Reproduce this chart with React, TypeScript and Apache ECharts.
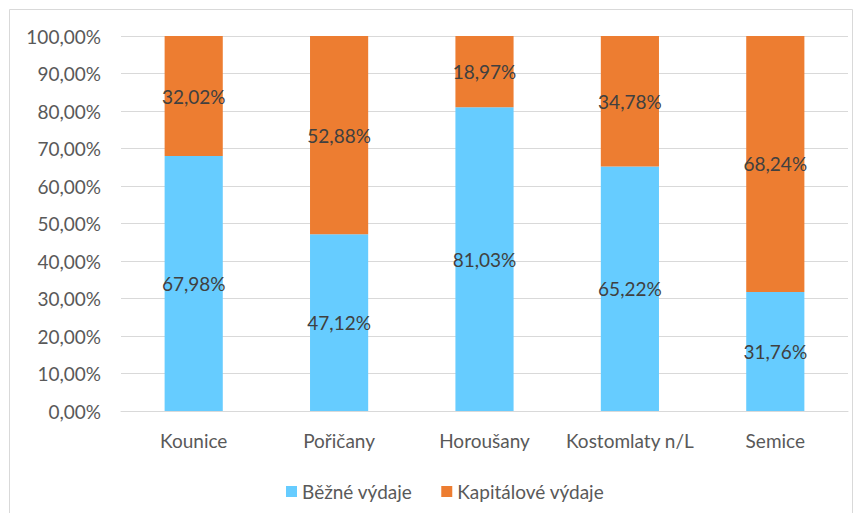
import React, { useEffect, useRef } from "react";
import * as echarts from "echarts";

const categories = ["Kounice", "Pořičany", "Horoušany", "Kostomlaty n/L", "Semice"];
const bezneVydaje = [67.98, 47.12, 81.03, 65.22, 31.76];
const kapitaloveVydaje = [32.02, 52.88, 18.97, 34.78, 68.24];
const seriesNames = ["Běžné výdaje", "Kapitálové výdaje"];

const fmt = (v: number) => v.toFixed(2).replace(".", ",") + "%";
const FONT = "Lato, 'Open Sans', sans-serif";
const FS = 19;

export default function App() {
  const ref = useRef<HTMLDivElement>(null);
  useEffect(() => {
    document.body.style.margin = "0";
    const chart = echarts.init(ref.current!, null, { renderer: "svg" });
    chart.setOption({
      animation: false,
      backgroundColor: "#ffffff",
      textStyle: { fontFamily: FONT },
      graphic: [
        {
          type: "rect",
          shape: { x: 9.5, y: 9.5, width: 843, height: 512 },
          style: { fill: "none", stroke: "#D9D9D9", lineWidth: 1 },
          silent: true,
        },
      ],
      grid: { left: 121, right: 13, top: 36, bottom: 102 },
      legend: {
        left: 281,
        top: 477,
        itemWidth: 11,
        itemHeight: 11,
        itemGap: 29,
        icon: "rect",
        textStyle: { color: "#595959", fontSize: FS, fontFamily: FONT },
        data: seriesNames,
      },
      xAxis: {
        type: "category",
        data: categories,
        axisLine: { lineStyle: { color: "#D9D9D9", width: 1 } },
        axisTick: { show: false },
        axisLabel: {
          color: "#595959",
          fontSize: FS,
          margin: 20,
          interval: 0,
          hideOverlap: false,
          fontFamily: FONT,
        },
      },
      yAxis: {
        type: "value",
        min: 0,
        max: 100,
        interval: 10,
        axisLine: { show: false },
        axisTick: { show: false },
        splitLine: { lineStyle: { color: "#D9D9D9", width: 1 } },
        axisLabel: {
          color: "#595959",
          fontSize: FS,
          margin: 20,
          fontFamily: FONT,
          formatter: (v: number) => fmt(v),
        },
      },
      series: [
        {
          name: seriesNames[0],
          type: "bar",
          stack: "total",
          barWidth: "40%",
          data: bezneVydaje,
          itemStyle: { color: "#66CCFF" },
          label: {
            show: true,
            position: "inside",
            color: "#404040",
            fontSize: FS,
            fontFamily: FONT,
            formatter: (p: any) => fmt(p.value),
          },
        },
        {
          name: seriesNames[1],
          type: "bar",
          stack: "total",
          barWidth: "40%",
          data: kapitaloveVydaje,
          itemStyle: { color: "#ED7D31" },
          label: {
            show: true,
            position: "inside",
            color: "#404040",
            fontSize: FS,
            fontFamily: FONT,
            formatter: (p: any) => fmt(p.value),
          },
        },
      ],
    });
    return () => chart.dispose();
  }, []);
  return <div ref={ref} style={{ width: 861, height: 513 }} />;
}
